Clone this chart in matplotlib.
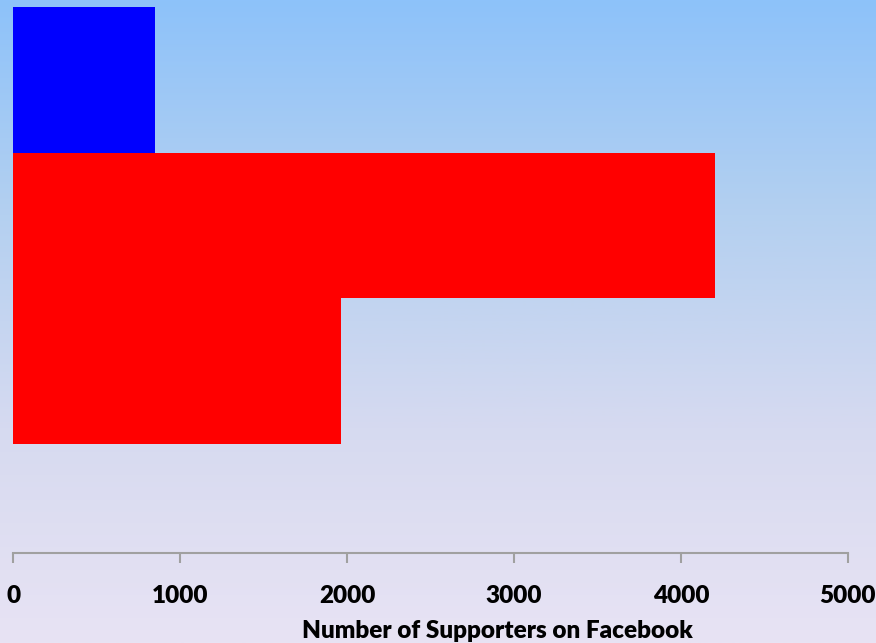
import numpy as np
import matplotlib
matplotlib.use("Agg")
import matplotlib.pyplot as plt
from matplotlib.colors import LinearSegmentedColormap

categories = ["A", "B", "C"]
values = [850, 4205, 1965]
colors = ["#0000FF", "#FF0000", "#FF0000"]
xticks = [0, 1000, 2000, 3000, 4000, 5000]
xlabel = "Number of Supporters on Facebook"

fig = plt.figure(figsize=(8.76, 6.43), dpi=100)

# gradient background
bg = fig.add_axes([0, 0, 1, 1], zorder=-10)
cmap = LinearSegmentedColormap.from_list("bg", ["#8DC2FA", "#B4D0F0", "#D6DAF0", "#E8E3F4"])
grad = np.linspace(0, 1, 256).reshape(-1, 1)
bg.imshow(grad, aspect="auto", cmap=cmap, extent=[0, 1, 0, 1], origin="upper")
bg.axis("off")

W, H = 876, 643
left = 13.3 / W
right = 847.7 / W
top = 1 - 7 / H
bottom = 1 - 553.3 / H
ax = fig.add_axes([left, bottom, right - left, top - bottom])
ax.patch.set_alpha(0)

y = np.arange(len(categories))
ax.barh(y, values, height=1.0, color=colors, edgecolor="none")
ax.set_xlim(0, 5000)
ax.set_ylim(3.25, -0.5)

for s in ["top", "right", "left"]:
    ax.spines[s].set_visible(False)
ax.spines["bottom"].set_color("#A0A0A0")
ax.spines["bottom"].set_linewidth(1.5)
ax.set_yticks([])
ax.set_xticks(xticks)
ax.set_xticklabels([str(t) for t in xticks], fontfamily="Lato", fontweight="heavy", fontsize=17.5)
ax.tick_params(axis="x", direction="out", length=7, width=1.5, color="#A0A0A0", pad=16)
ax.set_xlabel(xlabel, fontfamily="Lato", fontweight="heavy", fontsize=17.5)
ax.xaxis.set_label_coords(0.58, -0.122)

fig.savefig("out.png", dpi=100)
